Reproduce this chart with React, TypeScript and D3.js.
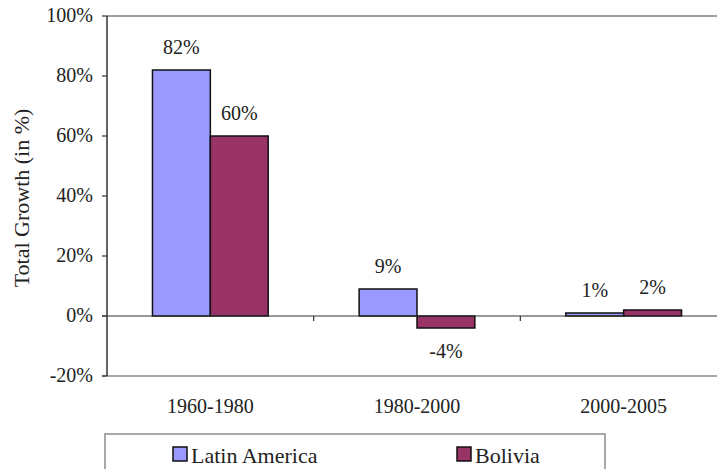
import React from "react";
import * as d3 from "d3";

const periods = ["1960-1980", "1980-2000", "2000-2005"];
const seriesNames = ["Latin America", "Bolivia"];
const latinAmerica = [82, 9, 1];
const bolivia = [60, -4, 2];
const yTicks = [-20, 0, 20, 40, 60, 80, 100];
const colors = ["#9999ff", "#993366"];

const W = 717;
const H = 469;
const LEFT = 107;
const RIGHT = 727;
const FONT = "Liberation Serif";
const TEXT = { fontFamily: FONT, fontSize: 20, fill: "#222" };
const WIDE_TEXT = { ...TEXT, fontSize: 22 };

const App = () => {
  const xScale = d3.scaleBand().domain(periods).range([LEFT, RIGHT]).padding(0);
  const bw = xScale.bandwidth();
  const xSub = d3
    .scaleBand()
    .domain(seriesNames)
    .range([bw * 0.22, bw * 0.78])
    .padding(0);
  const yScale = d3.scaleLinear().domain([-20, 100]).range([376, 16]);

  const rows = periods.map((p, i) => ({
    period: p,
    values: [
      { name: seriesNames[0], v: latinAmerica[i], c: colors[0] },
      { name: seriesNames[1], v: bolivia[i], c: colors[1] },
    ],
  }));

  const legendX = [173, 457];

  return (
    <svg
      width={W}
      height={H}
      style={{ position: "absolute", top: 0, left: 0, display: "block" }}
    >
      {/* frame */}
      <line x1={LEFT} x2={W} y1={yScale(100)} y2={yScale(100)} stroke="#a0a0a0" strokeWidth={2} />
      <line x1={LEFT - 5} x2={W} y1={yScale(-20)} y2={yScale(-20)} stroke="#8a8a8a" strokeWidth={1.5} />

      {/* y axis */}
      <line x1={LEFT} x2={LEFT} y1={yScale(100)} y2={yScale(-20)} stroke="#333" strokeWidth={1.5} />
      {yTicks.map((t) => (
        <g key={t}>
          <line x1={LEFT - 5} x2={LEFT} y1={yScale(t)} y2={yScale(t)} stroke="#333" strokeWidth={1.2} />
          <text x={93} y={yScale(t) + 6} textAnchor="end" style={TEXT}>
            {t + "%"}
          </text>
        </g>
      ))}
      <text transform="translate(29, 198) rotate(-90)" textAnchor="middle" style={WIDE_TEXT}>
        Total Growth (in %)
      </text>

      {/* bars */}
      {rows.map((r) => (
        <g key={r.period} transform={`translate(${xScale(r.period)},0)`}>
          {r.values.map((d) => (
            <rect
              key={d.name}
              x={xSub(d.name)}
              y={yScale(Math.max(0, d.v))}
              width={xSub.bandwidth()}
              height={Math.abs(yScale(d.v) - yScale(0))}
              fill={d.c}
              stroke="#111"
              strokeWidth={1.5}
            />
          ))}
          {r.values.map((d) => (
            <text
              key={d.name}
              x={xSub(d.name)! + xSub.bandwidth() / 2}
              y={d.v >= 0 ? yScale(d.v) - 16 : yScale(d.v) + 30}
              textAnchor="middle"
              style={TEXT}
            >
              {d.v + "%"}
            </text>
          ))}
        </g>
      ))}

      {/* zero line and category ticks */}
      <line x1={LEFT - 5} x2={W} y1={yScale(0)} y2={yScale(0)} stroke="#333" strokeWidth={1.2} />
      {periods.slice(1).map((p) => (
        <line key={p} x1={xScale(p)} x2={xScale(p)} y1={yScale(0)} y2={yScale(0) + 5} stroke="#333" strokeWidth={1.2} />
      ))}
      {periods.map((p) => (
        <text key={p} x={xScale(p)! + bw / 2} y={413} textAnchor="middle" style={TEXT}>
          {p}
        </text>
      ))}

      {/* legend */}
      <rect x={105} y={434} width={500} height={60} fill="white" stroke="#8a8a8a" strokeWidth={1.5} />
      {seriesNames.map((name, i) => (
        <g key={name}>
          <rect x={legendX[i]} y={447} width={14} height={14} fill={colors[i]} stroke="#111" strokeWidth={1.5} />
          <text x={legendX[i] + 18} y={463} style={WIDE_TEXT}>
            {name}
          </text>
        </g>
      ))}
    </svg>
  );
};

export default App;
